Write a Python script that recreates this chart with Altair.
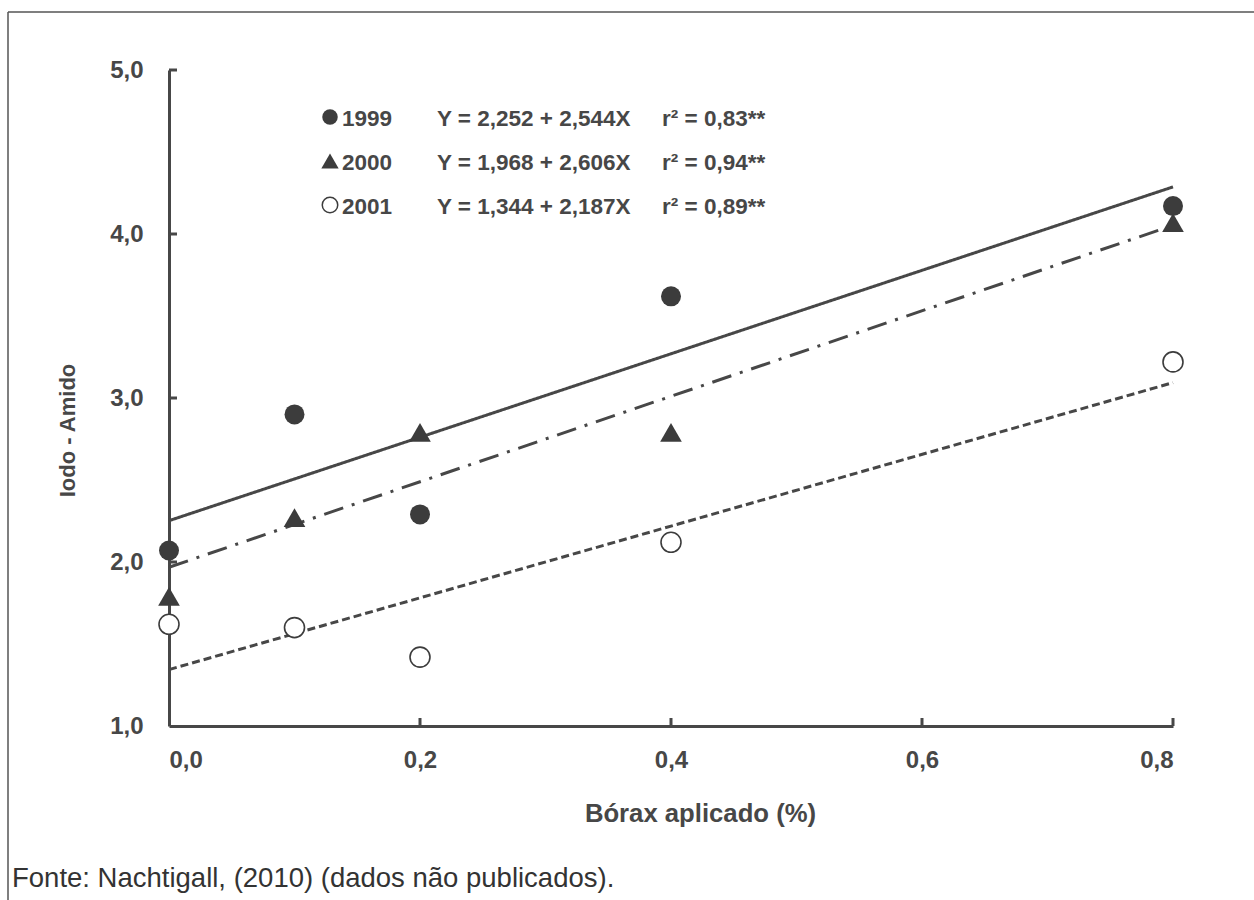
import altair as alt
import pandas as pd

# ---- data ----
borax = [0.0, 0.1, 0.2, 0.4, 0.8]
y1999 = [2.07, 2.90, 2.29, 3.62, 4.17]
y2000 = [1.79, 2.27, 2.79, 2.79, 4.07]
y2001 = [1.62, 1.60, 1.42, 2.12, 3.22]

years = ["1999", "2000", "2001"]
intercepts = [2.252, 1.968, 1.344]
slopes = [2.544, 2.606, 2.187]
equations = ["Y = 2,252 + 2,544X", "Y = 1,968 + 2,606X", "Y = 1,344 + 2,187X"]
r2_labels = ["r² = 0,83**", "r² = 0,94**", "r² = 0,89**"]

x_ticks = [0.0, 0.2, 0.4, 0.6, 0.8]
y_ticks = [1.0, 2.0, 3.0, 4.0, 5.0]
source_text = "Fonte: Nachtigall, (2010) (dados não publicados)."

# ---- tables ----
series = {"1999": y1999, "2000": y2000, "2001": y2001}
pts = pd.DataFrame(
    [{"year": yr, "x": x, "y": v} for yr in years for x, v in zip(borax, series[yr])]
)
fit = pd.DataFrame(
    [
        {"year": yr, "x": x, "y": a + b * x}
        for yr, a, b in zip(years, intercepts, slopes)
        for x in (borax[0], borax[-1])
    ]
)

W, H = 1004, 656
INK = "#3c3c3c"
AX = "#474747"
FONT = "Liberation Sans"
fmt = "replace(format(datum.value, '.1f'), '.', ',')"

xs = alt.Scale(domain=[0, 0.8], nice=False, zero=False)
ys = alt.Scale(domain=[1, 5], nice=False, zero=False)

xaxis = alt.Axis(
    values=x_ticks, labelExpr=fmt, tickSize=0, labelPadding=22, grid=False,
    domainColor=AX, domainWidth=3, labelColor=AX, labelFont=FONT,
    labelFontSize=24, labelFontWeight="bold", title="Bórax aplicado (%)",
    titleFont=FONT, titleFontSize=25.7, titleFontWeight="bold", titleColor=AX,
    titleX=531, titleY=87, titleBaseline="middle", titleAlign="center",
)
yaxis = alt.Axis(
    values=y_ticks, labelExpr=fmt, tickSize=0, labelPadding=26, grid=False,
    domainColor=AX, domainWidth=3, labelColor=AX, labelFont=FONT,
    labelFontSize=24, labelFontWeight="bold", title="Iodo - Amido",
    titleFont=FONT, titleFontSize=22, titleFontWeight="bold", titleColor=AX,
    titleX=-102, titleY=360, titleAngle=-90, titleBaseline="middle",
    titleAlign="center",
)

X = alt.X("x:Q", scale=xs, axis=xaxis)
Y = alt.Y("y:Q", scale=ys, axis=yaxis)

base = alt.Chart(pts)

# regression lines
dashes = {"1999": [1, 0], "2000": [20, 9, 3, 9], "2001": [8, 4]}
line_layers = []
for yr in years:
    line_layers.append(
        alt.Chart(fit[fit.year == yr])
        .mark_line(color=AX, strokeWidth=3, strokeDash=dashes[yr], clip=False)
        .encode(x=X, y=Y)
    )

# inside ticks
xt = pd.DataFrame({"x": x_ticks[1:]})
yt = pd.DataFrame({"y": y_ticks[1:]})
xtick_layer = alt.Chart(xt).mark_rule(color=AX, strokeWidth=3).encode(
    x=X, y=alt.value(H), y2=alt.value(H - 8)
)
ytick_layer = alt.Chart(yt).mark_rule(color=AX, strokeWidth=3).encode(
    y=Y, x=alt.value(0), x2=alt.value(8)
)

# markers
m1999 = base.transform_filter("datum.year == '1999'").mark_point(
    shape="circle", filled=True, color=INK, size=400, opacity=1, clip=False
).encode(x=X, y=Y)
m2000 = base.transform_filter("datum.year == '2000'").mark_point(
    shape="triangle-up", filled=True, color=INK, size=470, opacity=1, clip=False
).encode(x=X, y=Y)
m2001 = base.transform_filter("datum.year == '2001'").mark_point(
    shape="circle", filled=True, fill="white", stroke=INK, strokeWidth=1.6,
    size=400, opacity=1, clip=False
).encode(x=X, y=Y)

# in-plot legend
leg_rows = [48, 92, 136]
leg_shapes = ["circle", "triangle-up", "circle"]
leg_layers = []
one = pd.DataFrame({"k": [0]})
for i, yr in enumerate(years):
    if i == 2:
        mk = alt.Chart(one).mark_point(
            shape="circle", filled=True, fill="white", stroke=INK,
            strokeWidth=1.5, size=240, opacity=1
        )
    else:
        mk = alt.Chart(one).mark_point(
            shape=leg_shapes[i], filled=True, color=INK,
            size=240 if i == 0 else 300, opacity=1
        )
    leg_layers.append(mk.encode(x=alt.value(161), y=alt.value(leg_rows[i] - 1)))
    for xpos, txt in ((173, yr), (268, equations[i]), (493, r2_labels[i])):
        leg_layers.append(
            alt.Chart(pd.DataFrame({"t": [txt]}))
            .mark_text(
                align="left", baseline="middle", font=FONT, fontSize=22.5,
                fontWeight="bold", color=AX
            )
            .encode(x=alt.value(xpos), y=alt.value(leg_rows[i] + 1), text="t:N")
        )

# frame and source note
frame_left = alt.Chart(one).mark_rule(color="#555555", strokeWidth=1.5).encode(
    x=alt.value(-161), y=alt.value(-58), y2=alt.value(H + 174)
)
frame_top = alt.Chart(one).mark_rule(color="#555555", strokeWidth=1.5).encode(
    y=alt.value(-58), x=alt.value(-161), x2=alt.value(W + 81)
)
source = alt.Chart(pd.DataFrame({"t": [source_text]})).mark_text(
    align="left", baseline="middle", font=FONT, fontSize=27.5, color="#333333"
).encode(x=alt.value(-157), y=alt.value(809), text="t:N")

chart = (
    alt.layer(
        *line_layers, xtick_layer, ytick_layer, m1999, m2000, m2001,
        *leg_layers, frame_left, frame_top, source
    )
    .properties(
        width=W, height=H,
        autosize=alt.AutoSizeParams(type="none"),
        padding={"left": 169, "top": 70, "right": 81, "bottom": 174},
        background="white",
    )
    .configure_view(stroke=None)
)

chart.save("out.html", embed_options={"renderer": "svg", "actions": False})
